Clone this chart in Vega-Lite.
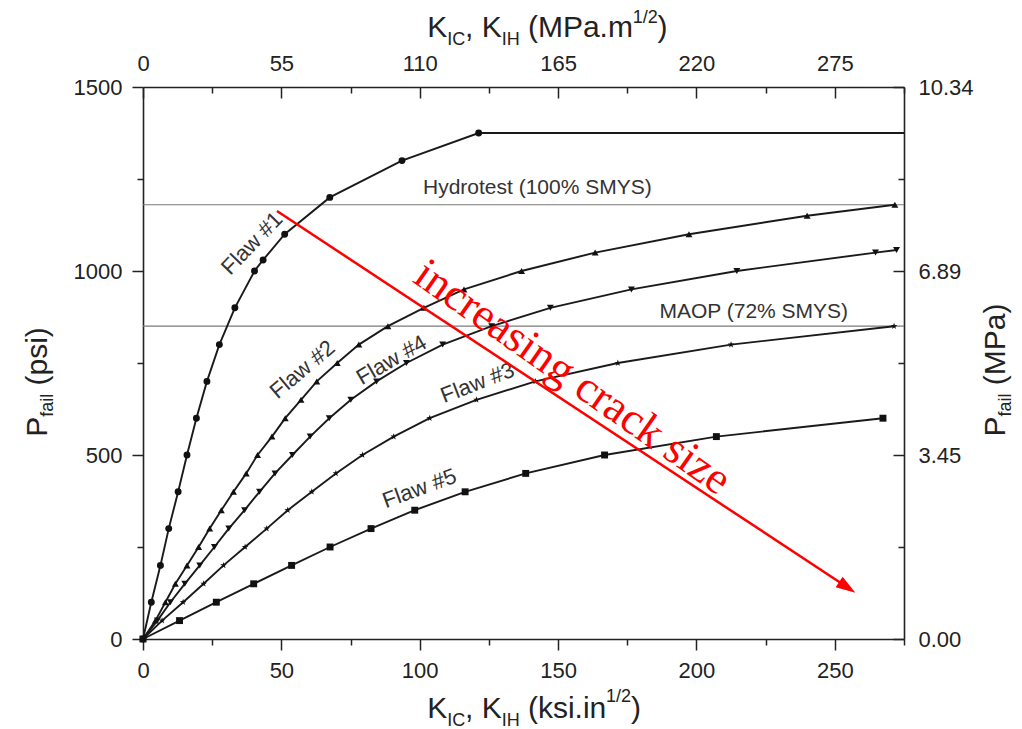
{
  "$schema": "https://vega.github.io/schema/vega-lite/v6.json",
  "width": 761,
  "height": 552,
  "autosize": "none",
  "padding": {"left": 143, "top": 87, "right": 118, "bottom": 90},
  "background": "white",
  "config": {"view": {"stroke": null}},
  "datasets": {
    "curves": [
      {"flaw": "Flaw #1", "K": 0, "P": 0}, {"flaw": "Flaw #1", "K": 3.0, "P": 100}, {"flaw": "Flaw #1", "K": 6.3, "P": 200},
      {"flaw": "Flaw #1", "K": 9.3, "P": 300}, {"flaw": "Flaw #1", "K": 12.7, "P": 400}, {"flaw": "Flaw #1", "K": 15.9, "P": 500},
      {"flaw": "Flaw #1", "K": 19.3, "P": 600}, {"flaw": "Flaw #1", "K": 23.1, "P": 700}, {"flaw": "Flaw #1", "K": 27.6, "P": 800},
      {"flaw": "Flaw #1", "K": 33.2, "P": 900}, {"flaw": "Flaw #1", "K": 40.3, "P": 1000}, {"flaw": "Flaw #1", "K": 43.4, "P": 1030},
      {"flaw": "Flaw #1", "K": 51.2, "P": 1100}, {"flaw": "Flaw #1", "K": 67.5, "P": 1200}, {"flaw": "Flaw #1", "K": 93.6, "P": 1300},
      {"flaw": "Flaw #1", "K": 121.3, "P": 1375}, {"flaw": "Flaw #1", "K": 275, "P": 1375},

      {"flaw": "Flaw #2", "K": 0, "P": 0}, {"flaw": "Flaw #2", "K": 4.5, "P": 50}, {"flaw": "Flaw #2", "K": 8.1, "P": 100},
      {"flaw": "Flaw #2", "K": 11.7, "P": 150}, {"flaw": "Flaw #2", "K": 15.9, "P": 200}, {"flaw": "Flaw #2", "K": 20.1, "P": 250},
      {"flaw": "Flaw #2", "K": 24.1, "P": 300}, {"flaw": "Flaw #2", "K": 28.3, "P": 350}, {"flaw": "Flaw #2", "K": 32.7, "P": 400},
      {"flaw": "Flaw #2", "K": 37.3, "P": 450}, {"flaw": "Flaw #2", "K": 41.4, "P": 500}, {"flaw": "Flaw #2", "K": 46.6, "P": 550},
      {"flaw": "Flaw #2", "K": 51.4, "P": 600}, {"flaw": "Flaw #2", "K": 57.1, "P": 650}, {"flaw": "Flaw #2", "K": 62.8, "P": 700},
      {"flaw": "Flaw #2", "K": 70.2, "P": 750}, {"flaw": "Flaw #2", "K": 78.0, "P": 800}, {"flaw": "Flaw #2", "K": 88.5, "P": 850},
      {"flaw": "Flaw #2", "K": 101.5, "P": 900}, {"flaw": "Flaw #2", "K": 116.0, "P": 950}, {"flaw": "Flaw #2", "K": 136.8, "P": 1000},
      {"flaw": "Flaw #2", "K": 163.4, "P": 1050}, {"flaw": "Flaw #2", "K": 197.3, "P": 1100}, {"flaw": "Flaw #2", "K": 240.0, "P": 1150},
      {"flaw": "Flaw #2", "K": 271.7, "P": 1180},

      {"flaw": "Flaw #4", "K": 0, "P": 0}, {"flaw": "Flaw #4", "K": 5.2, "P": 50}, {"flaw": "Flaw #4", "K": 9.9, "P": 100},
      {"flaw": "Flaw #4", "K": 15.1, "P": 150}, {"flaw": "Flaw #4", "K": 20.5, "P": 200}, {"flaw": "Flaw #4", "K": 25.8, "P": 250},
      {"flaw": "Flaw #4", "K": 31.0, "P": 300}, {"flaw": "Flaw #4", "K": 36.7, "P": 350}, {"flaw": "Flaw #4", "K": 42.1, "P": 400},
      {"flaw": "Flaw #4", "K": 47.7, "P": 450}, {"flaw": "Flaw #4", "K": 54.0, "P": 500}, {"flaw": "Flaw #4", "K": 60.4, "P": 550},
      {"flaw": "Flaw #4", "K": 67.3, "P": 600}, {"flaw": "Flaw #4", "K": 75.1, "P": 650}, {"flaw": "Flaw #4", "K": 84.4, "P": 700},
      {"flaw": "Flaw #4", "K": 95.2, "P": 750}, {"flaw": "Flaw #4", "K": 108.3, "P": 800}, {"flaw": "Flaw #4", "K": 126.0, "P": 850},
      {"flaw": "Flaw #4", "K": 147.2, "P": 900}, {"flaw": "Flaw #4", "K": 176.5, "P": 950}, {"flaw": "Flaw #4", "K": 214.6, "P": 1000},
      {"flaw": "Flaw #4", "K": 264.7, "P": 1050}, {"flaw": "Flaw #4", "K": 272.3, "P": 1057},

      {"flaw": "Flaw #3", "K": 0, "P": 0}, {"flaw": "Flaw #3", "K": 6.9, "P": 50}, {"flaw": "Flaw #3", "K": 14.5, "P": 100},
      {"flaw": "Flaw #3", "K": 21.9, "P": 150}, {"flaw": "Flaw #3", "K": 29.1, "P": 200}, {"flaw": "Flaw #3", "K": 36.9, "P": 250},
      {"flaw": "Flaw #3", "K": 44.7, "P": 300}, {"flaw": "Flaw #3", "K": 52.3, "P": 350}, {"flaw": "Flaw #3", "K": 61.0, "P": 400},
      {"flaw": "Flaw #3", "K": 69.7, "P": 450}, {"flaw": "Flaw #3", "K": 79.3, "P": 500}, {"flaw": "Flaw #3", "K": 90.6, "P": 550},
      {"flaw": "Flaw #3", "K": 103.6, "P": 600}, {"flaw": "Flaw #3", "K": 120.5, "P": 650}, {"flaw": "Flaw #3", "K": 141.8, "P": 700},
      {"flaw": "Flaw #3", "K": 171.6, "P": 750}, {"flaw": "Flaw #3", "K": 212.5, "P": 800}, {"flaw": "Flaw #3", "K": 271.4, "P": 850},

      {"flaw": "Flaw #5", "K": 0, "P": 0}, {"flaw": "Flaw #5", "K": 13.2, "P": 50}, {"flaw": "Flaw #5", "K": 26.5, "P": 100},
      {"flaw": "Flaw #5", "K": 40.0, "P": 150}, {"flaw": "Flaw #5", "K": 53.7, "P": 200}, {"flaw": "Flaw #5", "K": 67.6, "P": 250},
      {"flaw": "Flaw #5", "K": 82.4, "P": 300}, {"flaw": "Flaw #5", "K": 98.2, "P": 350}, {"flaw": "Flaw #5", "K": 116.4, "P": 400},
      {"flaw": "Flaw #5", "K": 138.3, "P": 450}, {"flaw": "Flaw #5", "K": 166.8, "P": 500}, {"flaw": "Flaw #5", "K": 207.2, "P": 550},
      {"flaw": "Flaw #5", "K": 267.4, "P": 600}
    ],
    "limits": [{"name": "Hydrotest (100% SMYS)", "P": 1180}, {"name": "MAOP (72% SMYS)", "P": 850}],
    "notes": [
      {"note": "Flaw #1", "K": 39.4, "P": 1075},
      {"note": "Flaw #2", "K": 57.6, "P": 732},
      {"note": "Flaw #4", "K": 89.8, "P": 758},
      {"note": "Flaw #3", "K": 120.9, "P": 696},
      {"note": "Flaw #5", "K": 99.9, "P": 409},
      {"note": "Hydrotest (100% SMYS)", "K": 142.5, "P": 1225},
      {"note": "MAOP (72% SMYS)", "K": 220.7, "P": 889}
    ],
    "arrow": [{"K": 48.4, "P": 1163, "K2": 254.5, "P2": 140.5}],
    "redtext": [{"t": "increasing crack size", "K": 155.3, "P": 712}],
    "titleH": [
      {"t": "K", "K": 102.70, "P": -214.7}, {"t": ", K", "K": 116.40, "P": -214.7},
      {"t": "(ksi.in", "K": 139.10, "P": -214.7}, {"t": ")", "K": 176.36, "P": -214.7},
      {"t": "K", "K": 102.70, "P": 1635.9}, {"t": ", K", "K": 116.40, "P": 1635.9},
      {"t": "(MPa.m", "K": 139.10, "P": 1635.9}, {"t": ")", "K": 185.95, "P": 1635.9}
    ],
    "titleHs": [
      {"t": "IC", "K": 109.91, "P": -236.4}, {"t": "IH", "K": 129.62, "P": -236.4}, {"t": "1/2", "K": 167.35, "P": -171.2},
      {"t": "IC", "K": 109.91, "P": 1614.1}, {"t": "IH", "K": 129.62, "P": 1614.1}, {"t": "1/2", "K": 176.94, "P": 1673.9}
    ],
    "titleV": [
      {"t": "P", "K": -34.69, "P": 549.5}, {"t": "(psi)", "K": -34.69, "P": 688.9},
      {"t": "P", "K": 311.5, "P": 550.3}, {"t": "(MPa)", "K": 311.5, "P": 689.7}
    ],
    "titleVs": [
      {"t": "fail", "K": -32.53, "P": 603.8}, {"t": "fail", "K": 313.7, "P": 604.6}
    ]
  },
  "resolve": {"axis": {"x": "independent", "y": "independent"}},
  "layer": [
    {
      "data": {"name": "limits"},
      "mark": {"type": "rule", "color": "#7a7a7a", "strokeWidth": 1.2},
      "encoding": {
        "y": {"field": "P", "type": "quantitative", "scale": {"domain": [0, 1500], "nice": false, "zero": false}, "axis": null}
      }
    },
    {
      "data": {"name": "curves"},
      "mark": {"type": "line", "color": "#1a1a1a", "strokeWidth": 1.9},
      "encoding": {
        "x": {"field": "K", "type": "quantitative", "scale": {"domain": [0, 275], "nice": false, "zero": false},
          "axis": {"orient": "bottom", "values": [0, 25, 50, 75, 100, 125, 150, 175, 200, 225, 250, 275],
            "labelExpr": "datum.value % 50 === 0 ? format(datum.value, 'd') : ''",
            "tickSize": {"condition": {"test": "datum.value % 50 === 0", "value": 11}, "value": 6},
            "labelPadding": 10, "labelFontSize": 22, "labelFont": "Liberation Sans", "labelColor": "#222",
            "tickColor": "#222", "tickWidth": 1.5, "domainColor": "#222", "domainWidth": 1.6, "grid": false, "title": null,
            "labelFlush": false, "labelOverlap": false, "labelBound": false}},
        "y": {"field": "P", "type": "quantitative", "scale": {"domain": [0, 1500], "nice": false, "zero": false},
          "axis": {"orient": "left", "values": [0, 250, 500, 750, 1000, 1250, 1500],
            "labelExpr": "datum.value % 500 === 0 ? format(datum.value, 'd') : ''",
            "tickSize": {"condition": {"test": "datum.value % 500 === 0", "value": 11}, "value": 6},
            "labelPadding": 10, "labelFontSize": 22, "labelFont": "Liberation Sans", "labelColor": "#222",
            "tickColor": "#222", "tickWidth": 1.5, "domainColor": "#222", "domainWidth": 1.6, "grid": false, "title": null,
            "labelFlush": false, "labelOverlap": false, "labelBound": false}},
        "detail": {"field": "flaw"}
      }
    },
    {
      "data": {"name": "curves"},
      "transform": [{"filter": "datum.K < 274"}],
      "mark": {"type": "point", "filled": true, "color": "#111", "opacity": 1},
      "encoding": {
        "x": {"field": "K", "type": "quantitative", "scale": {"domain": [0, 275], "nice": false, "zero": false},
          "axis": {"orient": "top", "values": [0, 25, 50, 75, 100, 125, 150, 175, 200, 225, 250, 275],
            "labelExpr": "datum.value % 50 === 0 && datum.value <= 250 ? format(round(datum.value * 1.1), 'd') : ''",
            "tickSize": {"condition": {"test": "datum.value % 50 === 0", "value": -11}, "value": -6},
            "labelPadding": 23, "labelFontSize": 22, "labelFont": "Liberation Sans", "labelColor": "#222",
            "tickColor": "#222", "tickWidth": 1.5, "domainColor": "#222", "domainWidth": 1.6, "grid": false, "title": null,
            "labelFlush": false, "labelOverlap": false, "labelBound": false}},
        "y": {"field": "P", "type": "quantitative", "scale": {"domain": [0, 1500], "nice": false, "zero": false},
          "axis": {"orient": "right", "values": [0, 250, 500, 750, 1000, 1250, 1500],
            "labelExpr": "datum.value % 500 === 0 ? format(datum.value * 0.0068948, '.2f') : ''",
            "tickSize": {"condition": {"test": "datum.value % 500 === 0", "value": -11}, "value": -6},
            "labelPadding": 25, "labelFontSize": 22, "labelFont": "Liberation Sans", "labelColor": "#222",
            "tickColor": "#222", "tickWidth": 1.5, "domainColor": "#222", "domainWidth": 1.6, "grid": false, "title": null,
            "labelFlush": false, "labelOverlap": false, "labelBound": false}},
        "shape": {"field": "flaw", "type": "nominal", "legend": null,
          "scale": {"domain": ["Flaw #1", "Flaw #2", "Flaw #3", "Flaw #4", "Flaw #5"],
            "range": ["circle", "triangle-up", "M0,-1L0.235,-0.324L0.951,-0.309L0.380,0.124L0.588,0.809L0,0.4L-0.588,0.809L-0.380,0.124L-0.951,-0.309L-0.235,-0.324Z", "triangle-down", "square"]}},
        "size": {"field": "flaw", "type": "nominal", "legend": null,
          "scale": {"domain": ["Flaw #1", "Flaw #2", "Flaw #3", "Flaw #4", "Flaw #5"], "range": [48, 48, 70, 48, 32]}}
      }
    },
    {
      "data": {"name": "notes"},
      "transform": [{"filter": "datum.note === 'Flaw #1'"}],
      "mark": {"type": "text", "angle": -46, "fontSize": 22, "font": "Liberation Sans", "color": "#333", "align": "center", "baseline": "middle"},
      "encoding": {
        "x": {"field": "K", "type": "quantitative", "scale": {"domain": [0, 275], "nice": false, "zero": false}, "axis": null},
        "y": {"field": "P", "type": "quantitative", "scale": {"domain": [0, 1500], "nice": false, "zero": false}, "axis": null},
        "text": {"field": "note"}
      }
    },
    {
      "data": {"name": "notes"},
      "transform": [{"filter": "datum.note === 'Flaw #2'"}],
      "mark": {"type": "text", "angle": -40, "fontSize": 22, "font": "Liberation Sans", "color": "#333", "align": "center", "baseline": "middle"},
      "encoding": {
        "x": {"field": "K", "type": "quantitative", "scale": {"domain": [0, 275], "nice": false, "zero": false}, "axis": null},
        "y": {"field": "P", "type": "quantitative", "scale": {"domain": [0, 1500], "nice": false, "zero": false}, "axis": null},
        "text": {"field": "note"}
      }
    },
    {
      "data": {"name": "notes"},
      "transform": [{"filter": "datum.note === 'Flaw #4'"}],
      "mark": {"type": "text", "angle": -30, "fontSize": 22, "font": "Liberation Sans", "color": "#333", "align": "center", "baseline": "middle"},
      "encoding": {
        "x": {"field": "K", "type": "quantitative", "scale": {"domain": [0, 275], "nice": false, "zero": false}, "axis": null},
        "y": {"field": "P", "type": "quantitative", "scale": {"domain": [0, 1500], "nice": false, "zero": false}, "axis": null},
        "text": {"field": "note"}
      }
    },
    {
      "data": {"name": "notes"},
      "transform": [{"filter": "datum.note === 'Flaw #3'"}],
      "mark": {"type": "text", "angle": -21, "fontSize": 22, "font": "Liberation Sans", "color": "#333", "align": "center", "baseline": "middle"},
      "encoding": {
        "x": {"field": "K", "type": "quantitative", "scale": {"domain": [0, 275], "nice": false, "zero": false}, "axis": null},
        "y": {"field": "P", "type": "quantitative", "scale": {"domain": [0, 1500], "nice": false, "zero": false}, "axis": null},
        "text": {"field": "note"}
      }
    },
    {
      "data": {"name": "notes"},
      "transform": [{"filter": "datum.note === 'Flaw #5'"}],
      "mark": {"type": "text", "angle": -20, "fontSize": 22, "font": "Liberation Sans", "color": "#333", "align": "center", "baseline": "middle"},
      "encoding": {
        "x": {"field": "K", "type": "quantitative", "scale": {"domain": [0, 275], "nice": false, "zero": false}, "axis": null},
        "y": {"field": "P", "type": "quantitative", "scale": {"domain": [0, 1500], "nice": false, "zero": false}, "axis": null},
        "text": {"field": "note"}
      }
    },
    {
      "data": {"name": "notes"},
      "transform": [{"filter": "indexof(datum.note, 'SMYS') >= 0"}],
      "mark": {"type": "text", "fontSize": 21, "font": "Liberation Sans", "color": "#333", "align": "center", "baseline": "middle"},
      "encoding": {
        "x": {"field": "K", "type": "quantitative", "scale": {"domain": [0, 275], "nice": false, "zero": false}, "axis": null},
        "y": {"field": "P", "type": "quantitative", "scale": {"domain": [0, 1500], "nice": false, "zero": false}, "axis": null},
        "text": {"field": "note"}
      }
    },
    {
      "data": {"name": "arrow"},
      "mark": {"type": "rule", "color": "#ff0000", "strokeWidth": 2.5},
      "encoding": {
        "x": {"field": "K", "type": "quantitative", "scale": {"domain": [0, 275], "nice": false, "zero": false}, "axis": null},
        "y": {"field": "P", "type": "quantitative", "scale": {"domain": [0, 1500], "nice": false, "zero": false}, "axis": null},
        "x2": {"field": "K2"},
        "y2": {"field": "P2"}
      }
    },
    {
      "data": {"name": "arrow"},
      "mark": {"type": "point", "shape": "M1,0L-1,-0.65L-1,0.65Z", "angle": 33.4, "filled": true, "color": "#ff0000", "opacity": 1, "size": 380},
      "encoding": {
        "x": {"field": "K2", "type": "quantitative", "scale": {"domain": [0, 275], "nice": false, "zero": false}, "axis": null},
        "y": {"field": "P2", "type": "quantitative", "scale": {"domain": [0, 1500], "nice": false, "zero": false}, "axis": null}
      }
    },
    {
      "data": {"name": "redtext"},
      "mark": {"type": "text", "angle": 35, "fontSize": 45, "font": "Liberation Serif", "color": "#ff0000", "align": "center", "baseline": "middle"},
      "encoding": {
        "x": {"field": "K", "type": "quantitative", "scale": {"domain": [0, 275], "nice": false, "zero": false}, "axis": null},
        "y": {"field": "P", "type": "quantitative", "scale": {"domain": [0, 1500], "nice": false, "zero": false}, "axis": null},
        "text": {"field": "t"}
      }
    },
    {
      "data": {"name": "titleH"},
      "mark": {"type": "text", "fontSize": 30, "font": "Liberation Sans", "color": "#222", "align": "left", "baseline": "alphabetic"},
      "encoding": {
        "x": {"field": "K", "type": "quantitative", "scale": {"domain": [0, 275], "nice": false, "zero": false}, "axis": null},
        "y": {"field": "P", "type": "quantitative", "scale": {"domain": [0, 1500], "nice": false, "zero": false}, "axis": null},
        "text": {"field": "t"}
      }
    },
    {
      "data": {"name": "titleHs"},
      "mark": {"type": "text", "fontSize": 18, "font": "Liberation Sans", "color": "#222", "align": "left", "baseline": "alphabetic"},
      "encoding": {
        "x": {"field": "K", "type": "quantitative", "scale": {"domain": [0, 275], "nice": false, "zero": false}, "axis": null},
        "y": {"field": "P", "type": "quantitative", "scale": {"domain": [0, 1500], "nice": false, "zero": false}, "axis": null},
        "text": {"field": "t"}
      }
    },
    {
      "data": {"name": "titleV"},
      "mark": {"type": "text", "angle": -90, "fontSize": 30, "font": "Liberation Sans", "color": "#222", "align": "left", "baseline": "alphabetic"},
      "encoding": {
        "x": {"field": "K", "type": "quantitative", "scale": {"domain": [0, 275], "nice": false, "zero": false}, "axis": null},
        "y": {"field": "P", "type": "quantitative", "scale": {"domain": [0, 1500], "nice": false, "zero": false}, "axis": null},
        "text": {"field": "t"}
      }
    },
    {
      "data": {"name": "titleVs"},
      "mark": {"type": "text", "angle": -90, "fontSize": 18, "font": "Liberation Sans", "color": "#222", "align": "left", "baseline": "alphabetic"},
      "encoding": {
        "x": {"field": "K", "type": "quantitative", "scale": {"domain": [0, 275], "nice": false, "zero": false}, "axis": null},
        "y": {"field": "P", "type": "quantitative", "scale": {"domain": [0, 1500], "nice": false, "zero": false}, "axis": null},
        "text": {"field": "t"}
      }
    }
  ]
}
